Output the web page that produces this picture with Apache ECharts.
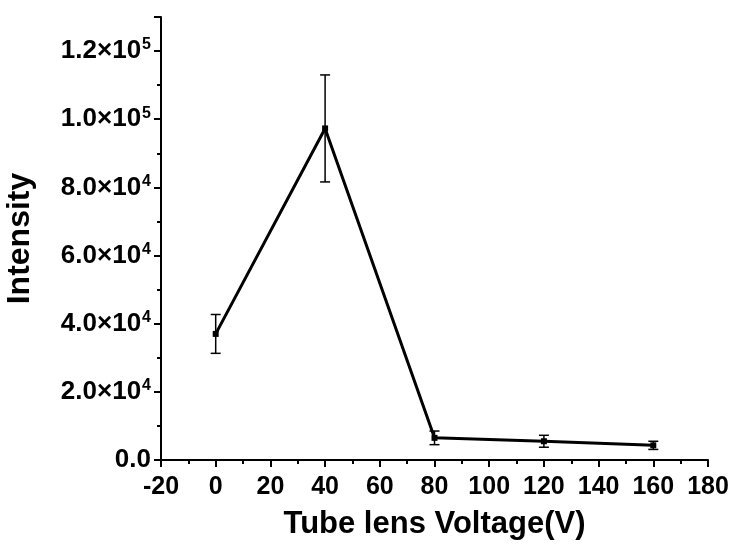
<!DOCTYPE html>
<html><head><meta charset="utf-8">
<script src="https://cdn.jsdelivr.net/npm/echarts@6/dist/echarts.min.js"></script>
<style>html,body{margin:0;padding:0;background:#fff}#c{width:737px;height:545px}</style>
</head><body><div id="c"></div>
<script>
const voltages = [0, 40, 80, 120, 160];
const intensity = [37000, 97300, 6500, 5500, 4300];
const errors = [5700, 15700, 2000, 1750, 1200];
const yTickValues = [0, 20000, 40000, 60000, 80000, 100000, 120000];
const yTickLabels = ['0.0', '2.0×10{s|4}', '4.0×10{s|4}', '6.0×10{s|4}', '8.0×10{s|4}', '1.0×10{s|5}', '1.2×10{s|5}'];
const xTitle = 'Tube lens Voltage(V)';
const yTitle = 'Intensity';

const font = 'Liberation Sans, Arial, sans-serif';
const chart = echarts.init(document.getElementById('c'));
const lineData = voltages.map((v, i) => [v, intensity[i]]);
const errData = voltages.map((v, i) => [v, intensity[i] - errors[i], intensity[i] + errors[i]]);

chart.setOption({
  animation: false,
  grid: {left: 161, right: 29, top: 17, bottom: 85, containLabel: false, outerBoundsMode: 'none'},
  xAxis: {
    type: 'value', min: -20, max: 180, interval: 20,
    name: xTitle, nameLocation: 'middle', nameGap: 49,
    nameTextStyle: {fontFamily: font, fontWeight: 'bold', fontSize: 31, color: '#000'},
    axisLine: {show: true, onZero: false, lineStyle: {color: '#000', width: 2}},
    axisTick: {show: true, inside: false, length: 7, lineStyle: {color: '#000', width: 2}},
    minorTick: {show: true, splitNumber: 2, length: 4, lineStyle: {color: '#000', width: 2}},
    axisLabel: {fontFamily: font, fontWeight: 'bold', fontSize: 25, color: '#000', margin: 15},
    splitLine: {show: false}
  },
  yAxis: {
    type: 'value', min: 0, max: 130000, interval: 20000,
    name: yTitle, nameLocation: 'middle', nameGap: 125, nameRotate: 90,
    nameTextStyle: {fontFamily: font, fontWeight: 'bold', fontSize: 32, color: '#000'},
    axisLine: {show: true, onZero: false, lineStyle: {color: '#000', width: 2}},
    axisTick: {show: true, inside: false, length: 7, lineStyle: {color: '#000', width: 2}},
    minorTick: {show: true, splitNumber: 2, length: 4, lineStyle: {color: '#000', width: 2}},
    axisLabel: {
      fontFamily: font, fontWeight: 'bold', fontSize: 26, color: '#000', margin: 10,
      formatter: function (val) {
        const i = yTickValues.indexOf(val);
        return i >= 0 ? yTickLabels[i] : '';
      },
      rich: {s: {fontFamily: font, fontWeight: 'bold', fontSize: 16, color: '#000', verticalAlign: 'top', padding: [0, 0, 12, 1]}}
    },
    splitLine: {show: false}
  },
  series: [
    {
      type: 'line', data: lineData, symbol: 'rect', symbolSize: 6,
      itemStyle: {color: '#000'}, lineStyle: {color: '#000', width: 3}, z: 3
    },
    {
      type: 'custom', data: errData, z: 2,
      renderItem: function (params, api) {
        const x = api.value(0);
        const lo = api.coord([x, api.value(1)]);
        const hi = api.coord([x, api.value(2)]);
        const w = 5;
        const st = {stroke: '#000', lineWidth: 1.5, fill: null};
        return {type: 'group', children: [
          {type: 'line', shape: {x1: lo[0], y1: lo[1], x2: hi[0], y2: hi[1]}, style: st},
          {type: 'line', shape: {x1: lo[0] - w, y1: lo[1], x2: lo[0] + w, y2: lo[1]}, style: st},
          {type: 'line', shape: {x1: hi[0] - w, y1: hi[1], x2: hi[0] + w, y2: hi[1]}, style: st}
        ]};
      },
      encode: {x: 0, y: [1, 2]}
    }
  ]
});
</script></body></html>
